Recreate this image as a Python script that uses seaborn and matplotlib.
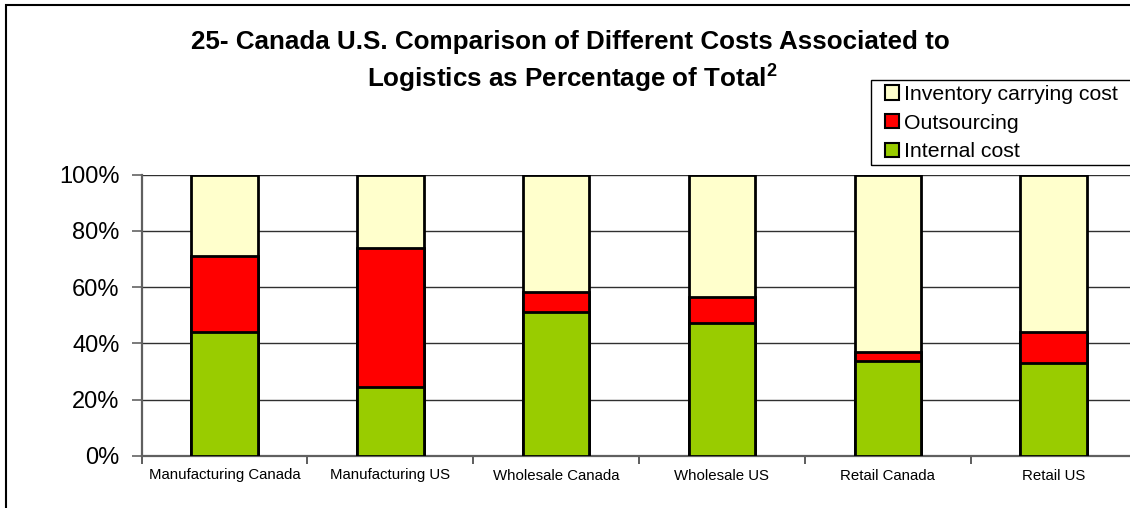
import matplotlib
matplotlib.use("Agg")
import matplotlib.pyplot as plt
from matplotlib.patches import Patch, Rectangle
from matplotlib.ticker import FixedLocator, PercentFormatter
import numpy as np
import pandas as pd
import seaborn as sns

# Share of total logistics cost (%) by sector and country
categories = ["Manufacturing Canada", "Manufacturing US", "Wholesale Canada",
              "Wholesale US", "Retail Canada", "Retail US"]
internal_cost = [44.0, 24.4, 51.3, 47.4, 33.9, 33.0]
outsourcing = [27.2, 49.4, 7.1, 9.2, 3.0, 11.2]
inventory_carrying = [28.8, 26.2, 41.6, 43.4, 63.1, 55.8]

series_names = ["Inventory carrying cost", "Outsourcing", "Internal cost"]
series_colors = {"Inventory carrying cost": "#FFFFCC",
                 "Outsourcing": "#FF0000",
                 "Internal cost": "#99CC00"}
y_ticks = [0, 20, 40, 60, 80, 100]

sns.set_theme(style="white")
plt.rcParams["font.family"] = ["Liberation Sans", "DejaVu Sans"]
plt.rcParams["mathtext.fontset"] = "custom"
plt.rcParams["mathtext.rm"] = "Liberation Sans"
plt.rcParams["mathtext.bf"] = "Liberation Sans:bold"
plt.rcParams["text.color"] = "black"
plt.rcParams["xtick.color"] = "black"
plt.rcParams["ytick.color"] = "black"

df = pd.DataFrame({
    "category": categories,
    "Internal cost": internal_cost,
    "Outsourcing": outsourcing,
    "Inventory carrying cost": inventory_carrying,
})
# cumulative tops of each stacked segment
df["top_internal"] = df["Internal cost"]
df["top_outsourcing"] = df["top_internal"] + df["Outsourcing"]
df["top_inventory"] = df["top_outsourcing"] + df["Inventory carrying cost"]

W, H = 1130, 508
fig = plt.figure(figsize=(W / 100, H / 100), dpi=100)
ax_left, ax_right, ax_top, ax_bottom = 141.7, 1136.5, 174.7, 456.0
ax = fig.add_axes([ax_left / W, 1 - ax_bottom / H,
                   (ax_right - ax_left) / W, (ax_bottom - ax_top) / H])
ax.set_facecolor("white")

# horizontal gridlines behind the bars
ax.set_axisbelow(True)
ax.yaxis.grid(True, color="#303030", linewidth=1.0)
ax.xaxis.grid(False)

# stacked bars: draw tallest cumulative segment first, then overlay lower ones
for col, name in [("top_inventory", "Inventory carrying cost"),
                  ("top_outsourcing", "Outsourcing"),
                  ("top_internal", "Internal cost")]:
    sns.barplot(data=df, x="category", y=col, order=categories,
                color=series_colors[name], saturation=1, width=0.4,
                edgecolor="black", linewidth=2, ax=ax, zorder=3)

ax.set_xlim(-0.5, len(categories) - 0.5)
ax.set_ylim(0, 100)
ax.set_xlabel("")
ax.set_ylabel("")
ax.yaxis.set_major_locator(FixedLocator(y_ticks))
ax.yaxis.set_major_formatter(PercentFormatter(decimals=0))
ax.tick_params(axis="y", which="major", direction="out", length=7, width=1.3,
               color="#707070", labelsize=17, labelcolor="black", pad=9, left=True)
ax.set_xticks(range(len(categories)))
ax.set_xticklabels(categories)
ax.tick_params(axis="x", which="major", length=0, labelsize=10.8,
               labelcolor="black", pad=9)
ax.xaxis.set_minor_locator(FixedLocator(np.arange(-0.5, len(categories), 1.0)))
ax.tick_params(axis="x", which="minor", direction="out", length=6, width=1.3,
               color="#505050", bottom=True)

for side in ["top", "right"]:
    ax.spines[side].set_visible(False)
for side in ["left", "bottom"]:
    ax.spines[side].set_visible(True)
    ax.spines[side].set_color("#606060")
    ax.spines[side].set_linewidth(1.6)

# title in two lines
fig.text(570 / W, 1 - 49 / H,
         "25- Canada U.S. Comparison of Different Costs Associated to",
         ha="center", va="baseline", fontsize=18.7, fontweight="bold",
         color="black")
fig.text(572 / W, 1 - 87 / H,
         r"Logistics as Percentage of Total$^{\mathbf{2}}$",
         ha="center", va="baseline", fontsize=18.7, fontweight="bold",
         color="black")

# legend with a plain black frame running off the right edge
handles = [Patch(facecolor=series_colors[n], edgecolor="black", linewidth=1.5, label=n)
           for n in series_names]
leg = fig.legend(handles=handles, loc="upper left",
                 bbox_to_anchor=(885 / W, 1 - 85 / H), frameon=False,
                 fontsize=15.3, handlelength=0.65, handleheight=0.65,
                 handletextpad=0.25, labelspacing=0.45, borderpad=0.0,
                 borderaxespad=0.0)
for t in leg.get_texts():
    t.set_color("black")
fig.patches.append(Rectangle((870.7 / W, 1 - 165 / H), 300 / W, 85 / H,
                             transform=fig.transFigure, fill=False,
                             edgecolor="black", linewidth=1.0))

# outer chart border
fig.patches.append(Rectangle((6 / W, -0.2), 1.2, 1.2 - 4.5 / H,
                             transform=fig.transFigure, fill=False,
                             edgecolor="black", linewidth=1.5))

fig.savefig("out.png", dpi=100)
